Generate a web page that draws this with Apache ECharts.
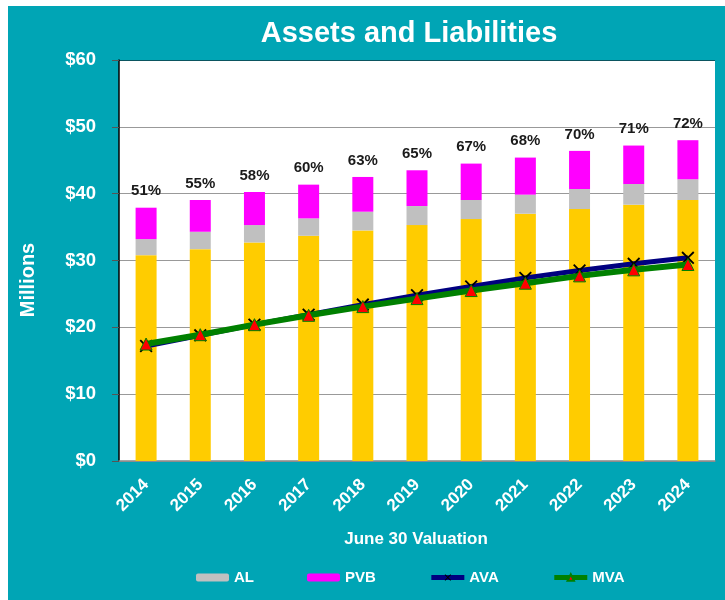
<!DOCTYPE html>
<html>
<head>
<meta charset="utf-8">
<script src="https://cdn.jsdelivr.net/npm/echarts@6/dist/echarts.min.js"></script>
<style>
  html, body { margin: 0; padding: 0; background: #ffffff; }
  #chart { width: 725px; height: 600px; }
</style>
</head>
<body>
<div id="chart"></div>
<script>
// ---- data ----
const years = ['2014','2015','2016','2017','2018','2019','2020','2021','2022','2023','2024'];
const assetsTop = [30.8, 31.7, 32.7, 33.7, 34.5, 35.3, 36.2, 37.0, 37.7, 38.35, 39.05];
const alTop     = [33.2, 34.3, 35.3, 36.3, 37.3, 38.15, 39.05, 39.85, 40.7, 41.45, 42.15];
const pvbTop    = [37.9, 39.05, 40.25, 41.35, 42.5, 43.5, 44.5, 45.4, 46.4, 47.2, 48.0];
const ava = [17.2, 18.8, 20.4, 21.9, 23.4, 24.8, 26.1, 27.4, 28.5, 29.5, 30.4];
const mva = [17.5, 18.9, 20.4, 21.8, 23.1, 24.3, 25.5, 26.6, 27.7, 28.6, 29.4];
const pctLabels = ['51%','55%','58%','60%','63%','65%','67%','68%','70%','71%','72%'];
const yTicks = [0, 10, 20, 30, 40, 50, 60];

const alSeg = alTop.map((v, i) => +(v - assetsTop[i]).toFixed(2));
const pvbSeg = pvbTop.map((v, i) => +(v - alTop[i]).toFixed(2));

const TEAL = '#00A5B5';
const font = 'Arial, "Liberation Sans", sans-serif';
const xShape = 'path://M0,1 L1,0 L5,4 L9,0 L10,1 L6,5 L10,9 L9,10 L5,6 L1,10 L0,9 L4,5 Z';

const chart = echarts.init(document.getElementById('chart'), null, { renderer: 'canvas' });
chart.setOption({
  backgroundColor: '#ffffff',
  animation: false,
  graphic: [
    { type: 'rect', z: -10, shape: { x: 8, y: 6, width: 717, height: 594 }, style: { fill: TEAL } },
    { type: 'rect', z: -9, shape: { x: 119, y: 60, width: 596, height: 401 }, style: { fill: '#ffffff' } },
    { type: 'text', x: 409, y: 34, style: { text: 'Assets and Liabilities', fill: '#ffffff', font: 'bold 29px ' + font, textAlign: 'center', textVerticalAlign: 'middle' } },
    { type: 'text', x: 28, y: 280, rotation: Math.PI / 2, style: { text: 'Millions', fill: '#ffffff', font: 'bold 20px ' + font, textAlign: 'center', textVerticalAlign: 'middle' } },
    { type: 'text', x: 416, y: 539, style: { text: 'June 30 Valuation', fill: '#ffffff', font: 'bold 17px ' + font, textAlign: 'center', textVerticalAlign: 'middle' } }
  ],
  grid: { left: 119, right: 10, top: 60, bottom: 139, containLabel: false },
  legend: {
    data: [
      { name: 'AL' },
      { name: 'PVB' },
      { name: 'AVA', lineStyle: { width: 5 } },
      { name: 'MVA', lineStyle: { width: 5 } }
    ],
    left: 191, top: 565,
    itemWidth: 33, itemHeight: 8, itemGap: 53,
    textStyle: { color: '#ffffff', fontWeight: 'bold', fontSize: 15, fontFamily: font }
  },
  xAxis: {
    type: 'category',
    data: years,
    axisLine: { lineStyle: { color: '#888888', width: 1.5 } },
    axisTick: { show: false },
    axisLabel: { rotate: 45, margin: 21, color: '#ffffff', fontWeight: 'bold', fontSize: 17, fontFamily: font }
  },
  yAxis: {
    type: 'value',
    min: yTicks[0], max: yTicks[yTicks.length - 1], interval: 10,
    axisLine: { show: true, lineStyle: { color: '#000000', width: 1.5 } },
    axisTick: { show: true, length: 7, lineStyle: { color: '#555555' } },
    axisLabel: { formatter: v => '$' + v, margin: 23, color: '#ffffff', fontWeight: 'bold', fontSize: 18.5, fontFamily: font },
    splitLine: { lineStyle: { color: ['#999999','#999999','#999999','#999999','#999999','#999999','#0B5560'], width: 1 } }
  },
  series: [
    { name: 'Assets', type: 'bar', stack: 'tot', barWidth: 21, data: assetsTop, itemStyle: { color: '#FFCC00' } },
    { name: 'AL', type: 'bar', stack: 'tot', barWidth: 21, data: alSeg, itemStyle: { color: '#C0C0C0' } },
    { name: 'PVB', type: 'bar', stack: 'tot', barWidth: 21, data: pvbSeg, itemStyle: { color: '#FF00FF' },
      label: { show: true, position: 'top', distance: 9, formatter: p => pctLabels[p.dataIndex], color: '#1a1a1a', fontWeight: 'bold', fontSize: 15, fontFamily: font } },
    { name: 'AVA', type: 'line', data: ava, symbol: xShape, symbolSize: 13,
      lineStyle: { color: '#000080', width: 5 }, itemStyle: { color: '#000000' }, z: 3 },
    { name: 'MVA', type: 'line', data: mva, symbol: 'triangle', symbolSize: 12,
      lineStyle: { color: '#008000', width: 6 }, itemStyle: { color: '#FF0000', borderColor: '#008000', borderWidth: 1 }, z: 4 }
  ]
});
</script>
</body>
</html>
